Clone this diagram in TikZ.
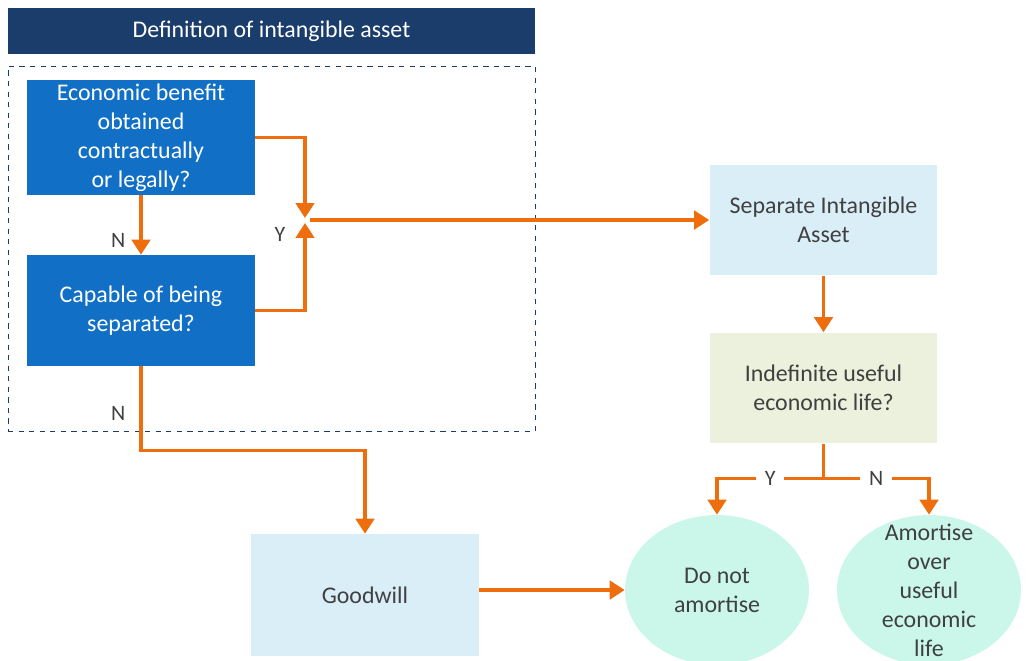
\documentclass[tikz,border=0pt]{standalone}
\usepackage{fontspec}
\setmainfont{Carlito}
\usetikzlibrary{arrows.meta,shapes.geometric,positioning}
\definecolor{iaNavy}{HTML}{1B3D6C}
\definecolor{iaBlue}{HTML}{1170C5}
\definecolor{iaSky}{HTML}{DAEEF8}
\definecolor{iaSage}{HTML}{EBF1DC}
\definecolor{iaMint}{HTML}{CAF7EA}
\definecolor{iaOrange}{HTML}{EE6E0E}
\definecolor{iaText}{HTML}{404040}
\tikzset{
  ianode/.style={
    minimum width=4.56cm, minimum height=2.22cm, align=center,
    font=\fontsize{13.6}{16.5}\selectfont, inner sep=2pt
  },
  question/.style={ianode, fill=iaBlue, text=white},
  outcome/.style={ianode, fill=iaSky, text=iaText},
  test/.style={ianode, fill=iaSage, text=iaText},
  result/.style={ellipse, fill=iaMint, text=iaText, minimum width=3.68cm, minimum height=3cm,
    align=center, font=\fontsize{13.6}{16.5}\selectfont, inner sep=-12pt},
  titlebar/.style={fill=iaNavy, text=white, minimum width=10.54cm, minimum height=0.92cm,
    font=\fontsize{13.6}{16.5}\selectfont},
  frame/.style={draw=iaNavy, dashed, thin, minimum width=10.54cm, minimum height=7.3cm},
  link/.style={line width=1.8pt, iaOrange},
  flow/.style={link, -{Triangle[length=8.5pt,width=10.5pt]}},
  yn/.style={font=\fontsize{12.5}{14}\selectfont, text=iaText, inner sep=1pt},
  gap/.style={yn, fill=white, inner xsep=5pt}
}
\begin{document}
\begin{tikzpicture}[x=0.02cm,y=-0.02cm]
  \useasboundingbox (0,0) rectangle (1027,660);
  % definition block
  \node[titlebar] (title) at (271.5,31) {Definition of intangible asset};
  \node[frame] (frame) at (271.5,248.5) {};
  \node[question] (econ) at (141,137.5) {Economic benefit\\obtained\\contractually\\or legally?};
  \node[question] (cap) at (141,310.5) {Capable of being\\separated?};
  \coordinate (jn) at (305,220);
  \coordinate (jtop) at (305,218);
  \coordinate (jbot) at (305,223);
  % right column
  \node[outcome] (sia) at (823.5,220) {Separate Intangible\\Asset};
  \node[test] (life) at (823.5,388) {Indefinite useful\\economic life?};
  \node[outcome, minimum height=2.44cm] (gw) at (365,595) {Goodwill};
  \node[result] (dna) at (717,590) {Do not\\amortise};
  \node[result] (amo) at (929,590) {Amortise\\over\\useful\\economic\\life};
  % connectors
  \draw[flow] (econ.south) -- node[yn, left=7pt, pos=0.76] {N} (cap.north);
  \draw[flow] (econ.east) -| (jtop);
  \draw[flow] (cap.east) -| (jbot);
  \node[yn, left=10pt, yshift=-8pt] at (jn) {Y};
  \draw[flow, shorten <=3pt] (jn) -- (sia.west);
  \draw[flow] (sia.south) -- (life.north);
  \draw[link] (life.south) -- ++(0,35) coordinate (fork);
  \draw[flow] (fork) -| node[gap, pos=0.25] {Y} (dna.north);
  \draw[flow] (fork) -| node[gap, pos=0.25] {N} (amo.north);
  \draw[flow] (cap.south) -- node[yn, left=7pt, pos=0.56] {N} ++(0,84) -| (gw.north);
  \draw[flow] (gw.east |- dna.west) -- (dna.west);
\end{tikzpicture}
\end{document}
